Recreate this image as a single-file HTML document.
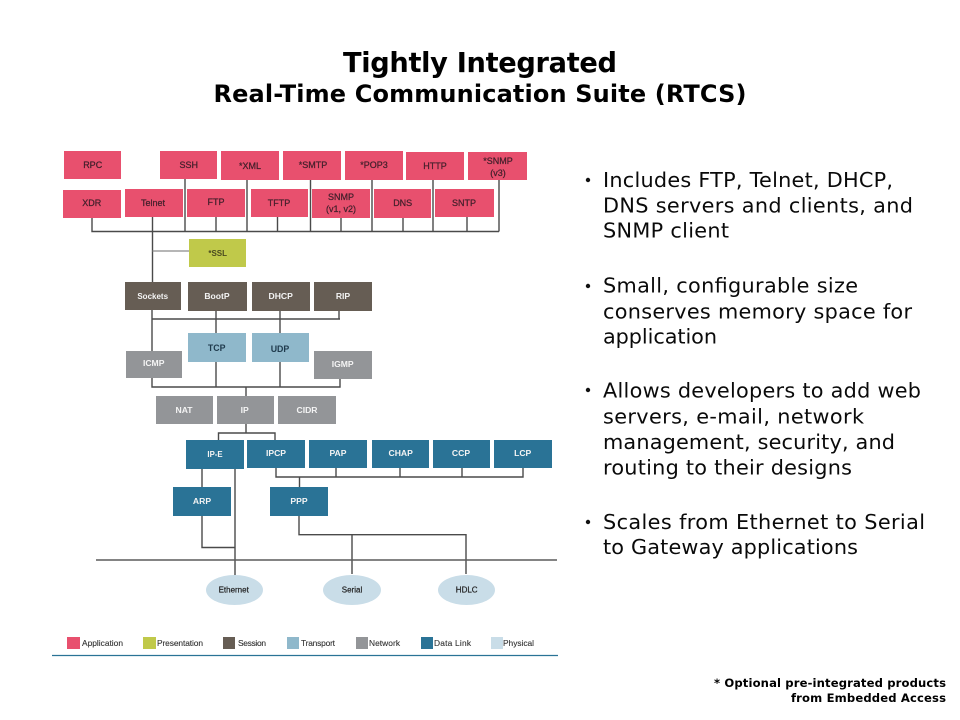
<!DOCTYPE html>
<html><head><meta charset="utf-8"><style>
html,body{margin:0;padding:0;background:#fff}
svg{display:block}
.h{font-family:"DejaVu Sans",Verdana,sans-serif;font-weight:bold;fill:#000;text-anchor:middle}
.b{font-family:"DejaVu Sans",Verdana,sans-serif;font-size:20.8px;fill:#0a0a0a}
.f{font-family:"DejaVu Sans",Verdana,sans-serif;font-size:11.6px;font-weight:bold;fill:#000;text-anchor:end}
.p{font-family:"Liberation Sans",Arial,sans-serif;font-size:9px;fill:#45202c;stroke:#45202c;stroke-width:.25;text-anchor:middle}
.w{font-family:"Liberation Sans",Arial,sans-serif;font-size:8.6px;font-weight:bold;fill:#f4f4f4;text-anchor:middle}
.d{font-family:"Liberation Sans",Arial,sans-serif;font-size:8.8px;font-weight:bold;fill:#1f3a4c;text-anchor:middle}
.e{font-family:"Liberation Sans",Arial,sans-serif;font-size:8px;fill:#222;stroke:#222;stroke-width:.2;text-anchor:middle}
.l{font-family:"Liberation Sans",Arial,sans-serif;font-size:8.4px;fill:#333;stroke:#333;stroke-width:.12}
.ln{stroke:#4a4a4a;stroke-width:1.4;fill:none}
</style></head><body>
<svg width="960" height="720" viewBox="0 0 960 720" xmlns="http://www.w3.org/2000/svg">
<rect width="960" height="720" fill="#fff"/>
<text class="h" x="480" y="72" font-size="27.2" textLength="274">Tightly Integrated</text>
<text class="h" x="480" y="102" font-size="24" textLength="533">Real-Time Communication Suite (RTCS)</text>

<!-- connectors -->
<path class="ln" d="M92 218V231.500H499M499 180V231.500M152.500 217V282M185 179V231.500M216 217V231.500M247 180V231.500M277.500 217V231.500M310.500 180V231.500M341 218V231.500M372 180V231.500M403 218V231.500M433 180V231.500M467 217V231.500"/>
<path d="M152.500 251H189" stroke="#8a8a8a" stroke-width="1.3" fill="none"/>
<path class="ln" d="M152 310V351M152 319H340M216 311V333M280 311V333M339 311V319"/>
<path class="ln" d="M152 378V387H340V379M216 362V387M280 362V387M246 387V396"/>
<path class="ln" d="M246 424V433M218.500 440V433H275V440"/>
<path class="ln" d="M276 468V477H523V468M336 468V477M400 468V477M462 468V477M299.500 477V487"/>
<path class="ln" d="M202 469V487M202 516V547.500H235M235 469V575"/>
<path class="ln" d="M299 516V534.700H466V574M352 534.700V574"/>
<path d="M96 560H557" stroke="#5c5c5c" stroke-width="1.5" fill="none"/>

<!-- Application -->
<g fill="#e8506e">
<rect x="64" y="151" width="57" height="28"/><rect x="160" y="151" width="57" height="28"/><rect x="221" y="151" width="58" height="29"/><rect x="283" y="151" width="58" height="29"/><rect x="345" y="151" width="58" height="29"/><rect x="406" y="152" width="58" height="28"/><rect x="468" y="152" width="59" height="28"/>
<rect x="63" y="190" width="58" height="28"/><rect x="125" y="189" width="58" height="28"/><rect x="187" y="189" width="58" height="28"/><rect x="251" y="189" width="57" height="28"/><rect x="312" y="189" width="58" height="29"/><rect x="374" y="189" width="57" height="29"/><rect x="435" y="189" width="59" height="28"/>
</g>
<text class="p" x="92.700" y="168">RPC</text><text class="p" x="188.700" y="168">SSH</text><text class="p" x="250" y="169">*XML</text><text class="p" x="313" y="168">*SMTP</text><text class="p" x="374" y="168">*POP3</text><text class="p" x="435" y="169">HTTP</text><text class="p" x="498" y="164">*SNMP</text><text class="p" x="498" y="176">(v3)</text>
<text class="p" x="91.700" y="206">XDR</text><text class="p" x="153" y="206">Telnet</text><text class="p" x="216" y="205">FTP</text><text class="p" x="279" y="206">TFTP</text><text class="p" x="341" y="200">SNMP</text><text class="p" x="341" y="212">(v1, v2)</text><text class="p" x="402.700" y="206">DNS</text><text class="p" x="464" y="206">SNTP</text>

<rect x="189" y="239" width="57" height="28" fill="#c0c94a"/>
<text x="217.700" y="256" font-family="Liberation Sans,Arial,sans-serif" font-size="8" font-weight="bold" fill="#4a4a20" text-anchor="middle">*SSL</text>

<!-- Session -->
<g fill="#665d54"><rect x="125" y="282" width="56" height="28"/><rect x="188" y="282" width="59" height="29"/><rect x="252" y="282" width="58" height="29"/><rect x="314" y="282" width="58" height="29"/></g>
<text class="w" x="152.700" y="299" style="font-size:8px">Sockets</text><text class="w" x="217" y="299">BootP</text><text class="w" x="280.700" y="299">DHCP</text><text class="w" x="343" y="299">RIP</text>

<!-- Transport -->
<g fill="#8fb8cb"><rect x="188" y="333" width="58" height="29"/><rect x="252" y="333" width="57" height="29"/></g>
<text class="d" x="216.700" y="351">TCP</text><text class="d" x="280" y="352">UDP</text>

<!-- Network -->
<g fill="#939598"><rect x="126" y="351" width="56" height="27"/><rect x="314" y="351" width="58" height="28"/><rect x="156" y="396" width="57" height="28"/><rect x="217" y="396" width="57" height="28"/><rect x="278" y="396" width="58" height="28"/></g>
<text class="w" x="153.700" y="366">ICMP</text><text class="w" x="342.700" y="367">IGMP</text><text class="w" x="184" y="413">NAT</text><text class="w" x="244.700" y="413">IP</text><text class="w" x="307" y="413">CIDR</text>

<!-- Data link -->
<g fill="#2a7396"><rect x="186" y="440" width="58" height="29"/><rect x="247" y="440" width="58" height="28"/><rect x="309" y="440" width="58" height="28"/><rect x="372" y="440" width="57" height="28"/><rect x="433" y="440" width="57" height="28"/><rect x="494" y="440" width="58" height="28"/><rect x="173" y="487" width="58" height="29"/><rect x="270" y="487" width="58" height="29"/></g>
<text class="w" x="215" y="457" style="font-size:7.8px">IP-E</text><text class="w" x="276" y="456">IPCP</text><text class="w" x="338" y="456">PAP</text><text class="w" x="400.700" y="456">CHAP</text><text class="w" x="461" y="456">CCP</text><text class="w" x="522.700" y="456">LCP</text><text class="w" x="202" y="504">ARP</text><text class="w" x="299" y="504">PPP</text>

<!-- Physical -->
<g fill="#c9dde8"><ellipse cx="234.500" cy="590" rx="28.500" ry="15"/><ellipse cx="352" cy="590" rx="29" ry="15"/><ellipse cx="466.500" cy="590" rx="28.500" ry="15"/></g>
<text class="e" x="233.700" y="592.500">Ethernet</text><text class="e" x="352" y="592.500">Serial</text><text class="e" x="466.700" y="592.500">HDLC</text>

<!-- Legend -->
<rect x="67" y="637" width="13" height="12" fill="#e8506e"/><rect x="143" y="637" width="13" height="12" fill="#c0c94a"/><rect x="223" y="637" width="12" height="12" fill="#665d54"/><rect x="287" y="637" width="12" height="12" fill="#8fb8cb"/><rect x="356" y="637" width="12" height="12" fill="#939598"/><rect x="421" y="637" width="12" height="12" fill="#2a7396"/><rect x="491" y="637" width="12" height="12" fill="#c9dde8"/>
<text class="l" x="82" y="646" textLength="41">Application</text><text class="l" x="157" y="646" textLength="46">Presentation</text><text class="l" x="238" y="646" textLength="28">Session</text><text class="l" x="301" y="646" textLength="34">Transport</text><text class="l" x="369" y="646" textLength="31">Network</text><text class="l" x="434" y="646" textLength="37">Data Link</text><text class="l" x="503" y="646" textLength="31">Physical</text>
<path d="M52 655.500H558" stroke="#2a7396" stroke-width="1.2" fill="none"/>

<!-- Bullets -->
<g fill="#111"><circle cx="588" cy="180" r="2.200"/><circle cx="588" cy="286" r="2.200"/><circle cx="588" cy="390" r="2.200"/><circle cx="588" cy="522" r="2.200"/></g>
<text class="b" x="603" y="187" textLength="290">Includes FTP, Telnet, DHCP,</text>
<text class="b" x="603" y="212.700" textLength="310">DNS servers and clients, and</text>
<text class="b" x="603" y="237.700" textLength="126">SNMP client</text>
<text class="b" x="603" y="292.700" textLength="255">Small, configurable size</text>
<text class="b" x="603" y="318.500" textLength="309">conserves memory space for</text>
<text class="b" x="603" y="343.500" textLength="114">application</text>
<text class="b" x="603" y="397.700" textLength="318">Allows developers to add web</text>
<text class="b" x="603" y="423.700" textLength="261">servers, e-mail, network</text>
<text class="b" x="603" y="449" textLength="292">management, security, and</text>
<text class="b" x="603" y="474.300" textLength="249">routing to their designs</text>
<text class="b" x="603" y="529" textLength="322">Scales from Ethernet to Serial</text>
<text class="b" x="603" y="554" textLength="255">to Gateway applications</text>

<text class="f" x="946" y="687" textLength="232">* Optional pre-integrated products</text>
<text class="f" x="946" y="702" textLength="155">from Embedded Access</text>
</svg>
</body></html>
